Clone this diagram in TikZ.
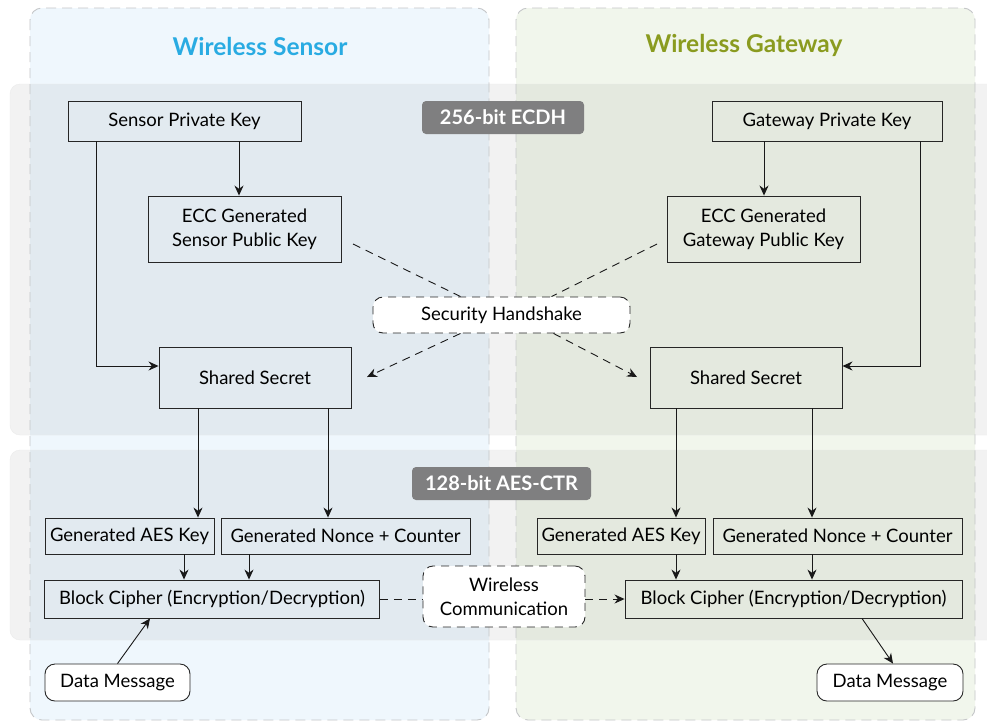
\documentclass[tikz,border=0pt]{standalone}
\usepackage{fontspec}
\setmainfont{Lato}
\usetikzlibrary{calc,arrows.meta}
\definecolor{sensorblue}{HTML}{29ABE2}
\definecolor{gatewaygreen}{HTML}{8A9B1F}
\definecolor{sensorfill}{HTML}{EFF7FD}
\definecolor{gatewayfill}{HTML}{F1F6EC}
\definecolor{tagfill}{HTML}{7F7F80}
\definecolor{panelline}{HTML}{C4C6C8}
\begin{document}
\begin{tikzpicture}[x=1pt, y=-1pt,
  box/.style={draw=black!85, line width=0.9pt, align=center, inner sep=0pt, font=\fontsize{18.5}{24}\selectfont},
  rbox/.style={box, fill=white, rounded corners=10pt},
  dbox/.style={rbox, dash pattern=on 8pt off 6pt},
  tag/.style={fill=tagfill, rounded corners=4pt, text=white, inner sep=0pt, font=\bfseries\fontsize{20}{22}\selectfont},
  title/.style={font=\bfseries\fontsize{24.5}{28}\selectfont},
  arr/.style={-{Stealth[length=10pt,width=9pt]}, line width=0.9pt, black!90},
  dsh/.style={line width=0.9pt, black!90, dash pattern=on 8pt off 6pt}]
\useasboundingbox (0,0) rectangle (987,721);
\fill[white] (0,0) rectangle (987,721);
\fill[sensorfill, rounded corners=12pt] (30,8) rectangle (489,720);
\fill[gatewayfill, rounded corners=12pt] (516,8) rectangle (975,720);
\begin{scope}
\clip (0,0) rectangle (987,721);
\filldraw[fill=black, fill opacity=0.05, draw=black!8, rounded corners=10pt] (10,84) rectangle (1010,435);
\filldraw[fill=black, fill opacity=0.05, draw=black!8, rounded corners=10pt] (10,450) rectangle (1010,640);
\end{scope}
\draw[panelline, line width=0.9pt, dash pattern=on 10pt off 6pt, rounded corners=12pt] (30,8) rectangle (489,720);
\draw[panelline, line width=0.9pt, dash pattern=on 10pt off 6pt, rounded corners=12pt] (516,8) rectangle (975,720);

\node [title, text=sensorblue] (tS) at (260,46) {Wireless Sensor};
\node [title, text=gatewaygreen] (tG) at (744,45) {Wireless Gateway};
\node [tag, minimum width=162pt, minimum height=33pt] (tE) at (503,117.5) {256-bit ECDH};
\node [tag, minimum width=179pt, minimum height=33pt] (tA) at (501.5,483.5) {128-bit AES-CTR};

\node [box, minimum width=233pt, minimum height=40pt] (SPK) at (184.5,121) {Sensor Private Key};
\node [box, minimum width=193pt, minimum height=66pt] (SPub) at (244.5,229) {ECC Generated\\Sensor Public Key};
\node [box, minimum width=192pt, minimum height=61pt] (SS) at (255,377.5) {Shared Secret};
\node [box, minimum width=230pt, minimum height=40pt] (GPK) at (827,121) {Gateway Private Key};
\node [box, minimum width=193pt, minimum height=66pt] (GPub) at (763.5,229) {ECC Generated\\Gateway Public Key};
\node [box, minimum width=192pt, minimum height=61pt] (GS) at (746,377.5) {Shared Secret};
\node [dbox, minimum width=257pt, minimum height=36pt] (HS) at (501.5,315) {Security Handshake};

\node [box, minimum width=169pt, minimum height=36pt] (SAK) at (129.5,536) {Generated AES Key};
\node [box, minimum width=249pt, minimum height=36pt] (SNC) at (345.5,536) {Generated Nonce + Counter};
\node [box, minimum width=335pt, minimum height=38pt] (SBC) at (212,599) {Block Cipher (Encryption/Decryption)};
\node [rbox, minimum width=145pt, minimum height=37pt] (SDM) at (117.5,682.5) {Data Message};
\node [box, minimum width=168pt, minimum height=36pt] (GAK) at (621,536) {Generated AES Key};
\node [box, minimum width=249pt, minimum height=36pt] (GNC) at (837.5,536) {Generated Nonce + Counter};
\node [box, minimum width=337pt, minimum height=38pt] (GBC) at (793.5,599) {Block Cipher (Encryption/Decryption)};
\node [rbox, minimum width=146pt, minimum height=37pt] (GDM) at (890,682.5) {Data Message};
\node [dbox, minimum width=162pt, minimum height=61pt] (WC) at (504,596.5) {Wireless\\Communication};

\coordinate (sOut) at (353,244);
\coordinate (gOut) at (657,244);
\coordinate (sIn) at (367,377);
\coordinate (gIn) at (637,377);

\draw [arr] (SPK.south -| 239,0) -- (SPub.north -| 239,0);
\draw [arr] (SPK.south -| 96,0) |- (SS.west |- 0,366);
\draw [arr] (GPK.south -| 764,0) -- (GPub.north -| 764,0);
\draw [arr] (GPK.south -| 920,0) |- (GS.east |- 0,366);

\draw [dsh] (sOut) -- ($(HS.north)+(-41,0)$);
\draw [dsh] (gOut) -- ($(HS.north)+(50,0)$);
\draw [dsh, arr] ($(HS.south)+(-41,0)$) -- (sIn);
\draw [dsh, arr] ($(HS.south)+(52,0)$) -- (gIn);

\draw [arr] (SS.south -| 198,0) -- (SAK.north -| 198,0);
\draw [arr] (SS.south -| 328,0) -- (SNC.north -| 328,0);
\draw [arr] (GS.south -| 676,0) -- (GAK.north -| 676,0);
\draw [arr] (GS.south -| 812,0) -- (GNC.north -| 812,0);
\draw [arr] (SAK.south -| 184,0) -- (SBC.north -| 184,0);
\draw [arr] (SNC.south -| 249,0) -- (SBC.north -| 249,0);
\draw [arr] (GAK.south -| 676,0) -- (GBC.north -| 676,0);
\draw [arr] (GNC.south -| 812,0) -- (GBC.north -| 812,0);

\draw [dsh] (SBC.east) -- (SBC.east -| WC.west);
\draw [dsh, arr] (WC.east |- GBC.west) -- (GBC.west);
\draw [arr] (SDM.north) -- (SBC.south -| 150,0);
\draw [arr] (GBC.south -| 862,0) -- (GDM.north -| 893,0);
\end{tikzpicture}
\end{document}
